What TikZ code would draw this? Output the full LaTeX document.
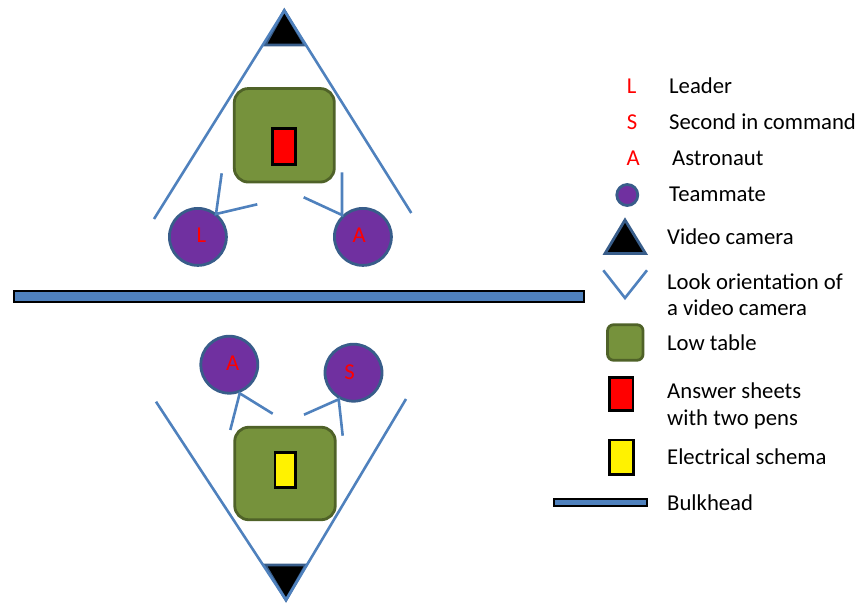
\documentclass[tikz,border=0pt]{standalone}
\usepackage{fontspec}
\setmainfont{Carlito}
\definecolor{lineblue}{HTML}{4F81BD}
\definecolor{edgeblue}{HTML}{385D8A}
\definecolor{purplefill}{HTML}{7030A0}
\definecolor{tablefill}{HTML}{76923C}
\definecolor{tableedge}{HTML}{4F6228}
\tikzset{
  look/.style={draw=lineblue,line width=2.6pt,line join=miter},
  mate/.style={circle,draw=edgeblue,line width=2.8pt,fill=purplefill,inner sep=0pt,minimum size=57pt},
  matesmall/.style={circle,draw=edgeblue,line width=2.8pt,fill=purplefill,inner sep=0pt,minimum size=21pt},
  lowtable/.style={rectangle,draw=tableedge,line width=2.8pt,fill=tablefill,rounded corners=14pt,inner sep=0pt},
  sheet/.style={rectangle,draw=black,line width=2.8pt,inner sep=0pt},
  bulk/.style={rectangle,draw=black,line width=2.2pt,fill=lineblue,inner sep=0pt},
  cam/.style={draw=edgeblue,line width=2.8pt,fill=black,line join=miter},
  tag/.style={text=red,font=\fontsize{22.7}{22.7}\selectfont,inner sep=0pt,anchor=base},
  item/.style={text=black,font=\fontsize{22.7}{22.7}\selectfont,inner sep=0pt,anchor=base west},
}
\begin{document}
\begin{tikzpicture}[x=1pt,y=-1pt]
\useasboundingbox (0,0) rectangle (858,604);
% bulkheads
\node[bulk,minimum width=570pt,minimum height=11pt] (wall) at (299.3,296.3) {};
\node[bulk,minimum width=93pt,minimum height=7pt] (keywall) at (600.5,502.7) {};
% top scene
\coordinate (ta) at (284.3,10.5);
\coordinate (tb) at (265,45);
\coordinate (tc) at (305,45);
\coordinate (tl) at (154,219);
\coordinate (tr) at (411.3,213);
\filldraw[cam] (ta) -- (tc) -- (tb) -- cycle;
\draw[look] (tl) -- (ta) -- (tr);
\node[lowtable,minimum width=100pt,minimum height=93.5pt] (t1) at (284.3,135.3) {};
\node[sheet,fill=red,minimum width=23.5pt,minimum height=36pt] (p1) at (284,146.8) {};
\node[mate] (cL) at (197.9,236.9) {};
\node[mate] (cA) at (362.9,236.9) {};
\node[tag] (lL) at (201.5,242.4) {L};
\node[tag] (lA) at (359.3,242.4) {A};
\coordinate (v1) at (216,214);
\coordinate (v1a) at (221.7,173.3);
\coordinate (v1b) at (257.3,204.3);
\draw[look] (v1a) -- (v1) -- (v1b);
\coordinate (v2) at (342,215);
\coordinate (v2a) at (342,172.3);
\coordinate (v2b) at (303.7,197.3);
\draw[look] (v2a) -- (v2) -- (v2b);
% bottom scene
\coordinate (ba) at (286,600);
\coordinate (bb) at (265,565);
\coordinate (bc) at (306,565);
\coordinate (bl) at (156,401.7);
\coordinate (br) at (406,399);
\filldraw[cam] (ba) -- (bc) -- (bb) -- cycle;
\draw[look] (bl) -- (ba) -- (br);
\node[lowtable,minimum width=100.5pt,minimum height=92.5pt] (t2) at (285,473.5) {};
\node[sheet,fill=yellow,minimum width=20.5pt,minimum height=35.5pt] (p2) at (285.3,470) {};
\node[mate] (dA) at (229.3,364.7) {};
\node[mate] (dS) at (353.5,372.7) {};
\node[tag] (mA) at (232.7,370.7) {A};
\node[tag] (mS) at (349.7,379) {S};
\coordinate (w1) at (239.7,393.3);
\coordinate (w1a) at (230.3,430);
\coordinate (w1b) at (272.7,413.7);
\draw[look] (w1a) -- (w1) -- (w1b);
\coordinate (w2) at (338.7,399.3);
\coordinate (w2a) at (342.7,435.7);
\coordinate (w2b) at (304,414.7);
\draw[look] (w2a) -- (w2) -- (w2b);
% legend
\node[tag] (kL) at (631.7,94) {L};
\node[tag] (kS) at (632,129.7) {S};
\node[tag] (kA) at (633.3,165.7) {A};
\node[matesmall] (kC) at (627.3,195) {};
\coordinate (ka) at (625,220);
\coordinate (kb) at (605,253.5);
\coordinate (kc) at (645.5,253.5);
\filldraw[cam] (ka) -- (kc) -- (kb) -- cycle;
\coordinate (ku) at (603.3,270.3);
\coordinate (kv) at (625,298);
\coordinate (kw) at (647,270.3);
\draw[look] (ku) -- (kv) -- (kw);
\node[lowtable,rounded corners=6pt,minimum width=35.5pt,minimum height=35.5pt] (kT) at (625.3,342.5) {};
\node[sheet,fill=red,minimum width=23.5pt,minimum height=32.5pt] (kP) at (621.2,394) {};
\node[sheet,fill=yellow,minimum width=24.5pt,minimum height=34.5pt] (kY) at (621.5,457.2) {};
\node[item] (i1) at (669,94) {Leader};
\node[item] (i2) at (669,129.7) {Second in command};
\node[item] (i3) at (672,165.7) {Astronaut};
\node[item] (i4) at (669,201.4) {Teammate};
\node[item] (i5) at (667,244.4) {Video camera};
\node[item] (i6) at (667,289) {Look orientation of};
\node[item] (i7) at (667,315.7) {a video camera};
\node[item] (i8) at (667,350.7) {Low table};
\node[item] (i9) at (667,398.4) {Answer sheets};
\node[item] (i10) at (667,425.7) {with two pens};
\node[item] (i11) at (667,464) {Electrical schema};
\node[item] (i12) at (667,510) {Bulkhead};
\end{tikzpicture}
\end{document}
